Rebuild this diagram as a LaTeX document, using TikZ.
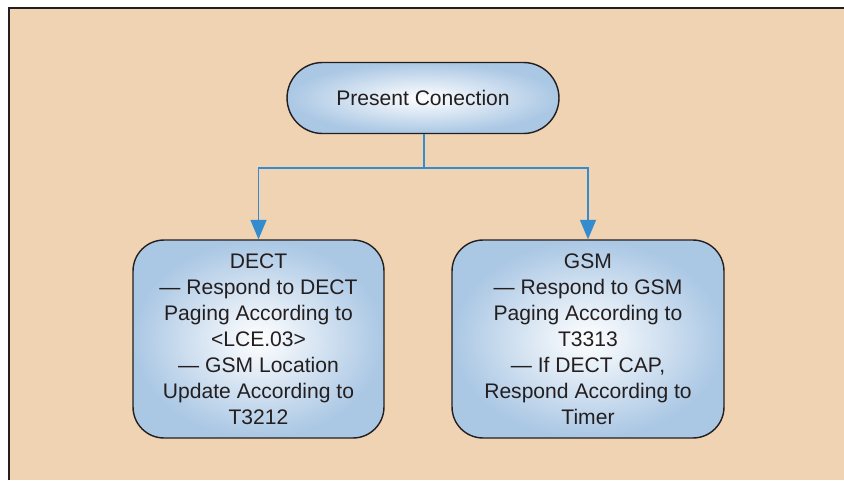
\documentclass[tikz,border=0pt]{standalone}
\usepackage{fontspec}
\setmainfont{Liberation Sans}
\usetikzlibrary{arrows.meta, shapes.misc}

\definecolor{panelbeige}{RGB}{239,211,178}
\definecolor{boxblue}{RGB}{170,199,228}
\definecolor{linkblue}{RGB}{52,140,206}
\definecolor{inkgray}{RGB}{35,31,32}

\tikzset{
  boxtext/.style={text=inkgray, align=center, font=\fontsize{12}{14.8}\selectfont, inner sep=0pt},
  shadebox/.style={boxtext, draw=inkgray, line width=0.8pt, shade, inner color=white, outer color=boxblue},
  startbox/.style={shadebox, rounded rectangle, minimum width=5.44cm, minimum height=1.42cm},
  statebox/.style={shadebox, rectangle, rounded corners=0.62cm, minimum height=3.96cm},
  link/.style={draw=linkblue, line width=0.9pt},
  linkarrow/.style={link, -{Triangle[width=9pt, length=11pt, fill=linkblue]}}
}

\begin{document}
\begin{tikzpicture}[x=0.02cm, y=-0.02cm]
  \useasboundingbox (0,0) rectangle (844,480);
  \fill[white] (0,0) rectangle (844,480);
  % panel
  \fill[panelbeige] (9,8) rectangle (844,480);
  \draw[inkgray, line width=0.8pt] (9,480) -- (9,8) -- (844,8);

  \node[startbox] (present) at (423,98) {Present Conection};
  \node[statebox, minimum width=5.02cm] (dect) at (258.5,339) {DECT\\--- Respond to DECT\\Paging According to\\<LCE.03>\\--- GSM Location\\Update According to\\T3212};
  \node[statebox, minimum width=5.44cm] (gsm) at (588,339) {GSM\\--- Respond to GSM\\Paging According to\\T3313\\--- If DECT CAP,\\Respond According to\\Timer};

  \coordinate (split) at (424,168);
  \draw[link] (present.south -| split) -- (split);
  \draw[linkarrow] (split) -| (dect.north);
  \draw[linkarrow] (split) -| (gsm.north);
\end{tikzpicture}
\end{document}
